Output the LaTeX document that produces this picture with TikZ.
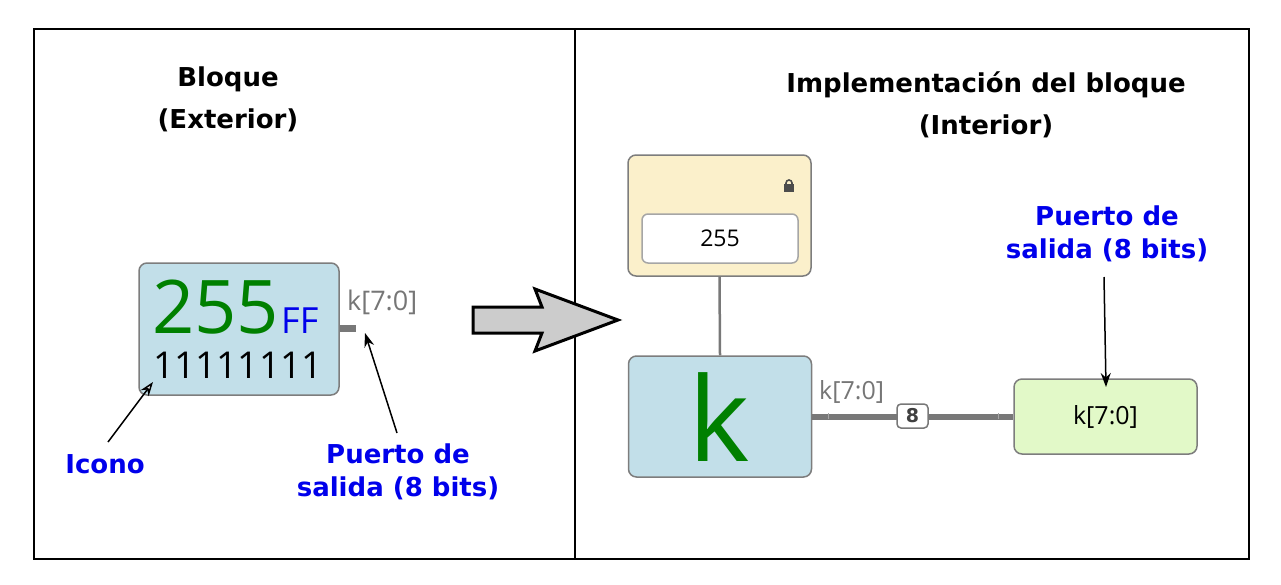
\documentclass[tikz,border=0pt]{standalone}
\usepackage{fontspec}
\setmainfont{DejaVu Sans}
\newfontfamily\blkfont{Open Sans}
\usetikzlibrary{arrows.meta, calc}

\definecolor{blkblue}{RGB}{194,223,233}
\definecolor{constcream}{RGB}{251,240,203}
\definecolor{outgreen}{RGB}{226,249,200}
\definecolor{bordergray}{RGB}{125,125,125}
\definecolor{wiregray}{RGB}{120,120,120}
\definecolor{labelgray}{RGB}{118,118,118}
\definecolor{noteblue}{RGB}{0,0,235}
\definecolor{valgreen}{RGB}{0,128,0}

\tikzset{
  blk/.style={draw=bordergray, line width=1.5pt, rounded corners=8pt, inner sep=0pt},
  title/.style={font=\bfseries\fontsize{26}{42.5}\selectfont, align=center, inner sep=0pt},
  note/.style={text=noteblue, font=\bfseries\fontsize{26}{33}\selectfont, align=center, inner sep=0pt},
  pointer/.style={line width=1.5pt, -{Stealth[length=14pt, width=10pt]}},
  wire/.style={wiregray, line width=6pt},
  portlabel/.style={text=labelgray, font=\blkfont\fontsize{27}{30}\selectfont, inner sep=0pt},
}

\begin{document}
\begin{tikzpicture}[x=1pt, y=-1pt]
    \useasboundingbox (0,0) rectangle (1281,584);

    % frames
    \draw[line width=1.5pt] (34,29) rectangle (575,559);
    \draw[line width=1.5pt] (575,29) rectangle (1249,559);

    \node[title] (tl) at (228,99.5) {Bloque\\(Exterior)};
    \node[title] (tr) at (986,105) {Implementación del bloque\\(Interior)};

    % exterior block
    \node[blk, fill=blkblue, minimum width=200pt, minimum height=132pt] (icon) at (239,329) {};
    \node[anchor=base west, inner sep=0pt, text=valgreen, font=\blkfont\fontsize{74}{74}\selectfont] (dec) at (152,333) {255};
    \node[anchor=base west, inner sep=0pt, text=noteblue, font=\blkfont\fontsize{36}{36}\selectfont] (hex) at (281,333) {FF};
    \node[anchor=base west, inner sep=0pt, font=\blkfont\fontsize{37}{37}\selectfont] (bin) at (153,378) {11111111};
    \fill[wiregray] (icon.east |- 0,325) rectangle (356,332);
    \coordinate (P) at (365,333);
    \node[portlabel, anchor=base west] (pl) at (347,310) {k[7:0]};

    \node[note] (ico) at (105,464) {Icono};
    \node[note] (pe) at (398,472) {Puerto de\\salida (8 bits)};
    \coordinate (I) at (153,382);
    \draw[line width=1.5pt, -{Stealth[length=14pt, width=10pt, fill=white]}] (108,442) -- (I);
    \draw[pointer] (397,433) -- (P);

    % big arrow
    \draw[line width=3pt, fill=black!20, line join=miter]
        (473,307) -- (542,307) -- (535,289) -- (618,320) -- (535,351) -- (542,333) -- (473,333) -- cycle;

    % interior
    \node[blk, fill=constcream, minimum width=183pt, minimum height=121pt] (const) at (719.5,215.5) {};
    \node[blk, draw=black!35, fill=white, minimum width=156pt, minimum height=49pt, rounded corners=6pt,
          font=\blkfont\fontsize{23}{23}\selectfont] (val) at (720,238.5) {255};
    \fill[black!70] (784,184) rectangle (794,192);
    \draw[black!70, line width=1.6pt] (786,185) -- (786,183) arc[start angle=180, end angle=360, radius=3] -- (792,185);

    \node[blk, fill=blkblue, minimum width=183pt, minimum height=121pt] (kblk) at (720,416.5) {};
    \node[anchor=base, inner sep=0pt, text=valgreen, font=\blkfont\fontsize{117}{117}\selectfont] (kk) at (719,461) {k};
    \draw[wiregray, line width=2.5pt] (const.south) -- (kblk.north);

    \node[blk, fill=outgreen, minimum width=183pt, minimum height=75pt,
          font=\blkfont\fontsize{25}{25}\selectfont] (out) at (1105.5,416.5) {k[7:0]};

    \draw[wire] (kblk.east) -- (out.west);
    \draw[black!35, line width=1pt] (828,413) -- (828,419);
    \draw[black!35, line width=1pt] (998,413) -- (998,419);
    \node[blk, draw=wiregray, fill=white, minimum width=31pt, minimum height=24pt, rounded corners=4pt,
          text=black!75, font=\bfseries\fontsize{19}{19}\selectfont] (bw) at (912.5,416) {8};
    \node[portlabel, anchor=base west, font=\blkfont\fontsize{25}{25}\selectfont] (kl) at (819,399) {k[7:0]};

    \node[note] (pi) at (1107,234) {Puerto de\\salida (8 bits)};
    \coordinate (O) at (1106,387);
    \draw[pointer] (1104,277) -- (O);
\end{tikzpicture}
\end{document}
